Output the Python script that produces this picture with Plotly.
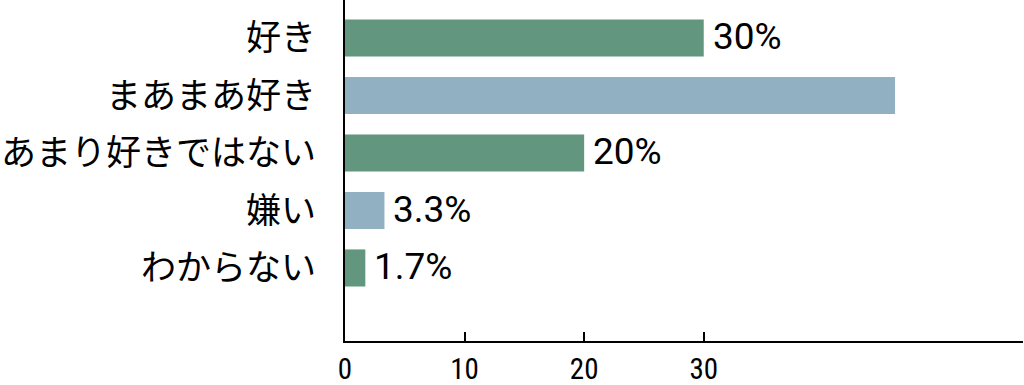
import plotly.graph_objects as go

categories = ["好き", "まあまあ好き", "あまり好きではない", "嫌い", "わからない"]
values = [30, 46, 20, 3.3, 1.7]
value_labels = ["30%", "", "20%", "3.3%", "1.7%"]
colors = ["#62967f", "#91b0c2", "#62967f", "#91b0c2", "#62967f"]
tick_vals = [0, 10, 20, 30]
tick_text = ["0", "10", "20", "30"]

tick_font = "Roboto Condensed, DejaVu Sans Condensed, sans-serif"
label_font = "Roboto, sans-serif"
jp_font = "Noto Sans CJK JP, sans-serif"

fig = go.Figure()
fig.add_trace(go.Bar(
    x=values, y=categories, orientation="h",
    marker=dict(color=colors, line=dict(width=0)),
    width=0.645, hoverinfo="skip",
))

for v, c, t in zip(values, categories, value_labels):
    if t:
        fig.add_annotation(x=v, y=c, text=t, showarrow=False, xanchor="left",
                           yanchor="middle", xshift=7, yshift=1,
                           font=dict(family=label_font, size=37, color="#000"))

fig.update_layout(
    width=1024, height=385,
    margin=dict(l=345, r=1, t=0, b=44, autoexpand=False),
    paper_bgcolor="white", plot_bgcolor="white",
    showlegend=False,
    xaxis=dict(range=[0, 56.7], tickvals=tick_vals, ticktext=tick_text,
               ticks="inside", ticklen=9, tickwidth=2, tickcolor="#000",
               showline=True, linecolor="#000", linewidth=2, automargin=False,
               showgrid=False, zeroline=False, ticklabelstandoff=1,
               tickfont=dict(family=tick_font, size=29, color="#000")),
    yaxis=dict(categoryorder="array", categoryarray=categories,
               range=[5.27, -0.66], showline=True, linecolor="#000", linewidth=2,
               showgrid=False, zeroline=False, ticks="", automargin=False,
               ticklabelstandoff=20,
               tickfont=dict(family=jp_font, size=35, color="#000")),
)

fig.write_html("out.html")
